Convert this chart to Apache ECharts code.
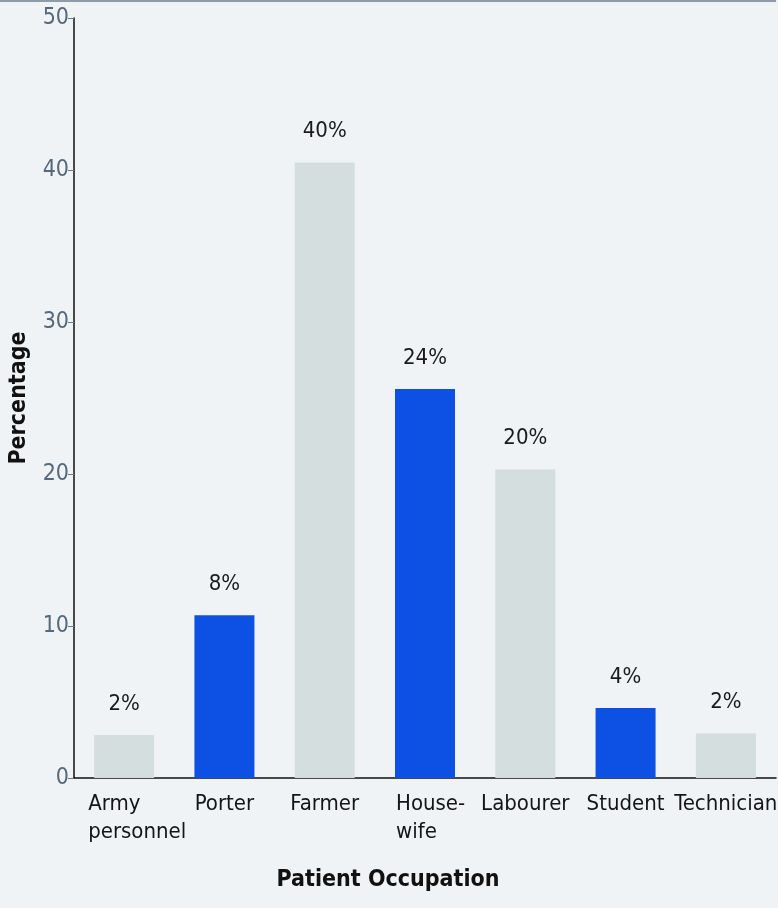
<!DOCTYPE html>
<html>
<head>
<meta charset="utf-8">
<title>Patient Occupation</title>
<script src="https://cdn.jsdelivr.net/npm/echarts@6/dist/echarts.min.js"></script>
<style>
  html, body { margin: 0; padding: 0; background: #eff3f6; }
  #chart { width: 778px; height: 908px; }
</style>
</head>
<body>
<div id="chart"></div>
<script>
var occupations = ['Army\npersonnel', 'Porter', 'Farmer', 'House-\nwife', 'Labourer', 'Student', 'Technician'];
var barHeights = [2.83, 10.7, 40.5, 25.6, 20.3, 4.6, 2.94];
var barLabels = ['2%', '8%', '40%', '24%', '20%', '4%', '2%'];
var highlighted = [false, true, false, true, false, true, false];
var yTicks = [0, 10, 20, 30, 40, 50];

(function() {
  var chart = echarts.init(document.getElementById('chart'));
  var font = "'Liberation Sans Narrow', 'DejaVu Sans Condensed', sans-serif";

  // multi-line labels are left aligned in the source
  var labelShift = {'Army\npersonnel': -36, 'House-\nwife': -29};

  var option = {
    backgroundColor: '#eff3f6',
    animation: false,
    grid: {left: 74, right: 2, top: 18, bottom: 130, containLabel: false, outerBoundsMode: 'none'},
    graphic: [{
      type: 'line',
      shape: {x1: 0, y1: 1, x2: 776, y2: 1},
      style: {stroke: '#8d9ca8', lineWidth: 2}
    }],
    xAxis: {
      type: 'category',
      data: occupations.map(function(name) {
        if (labelShift[name] !== undefined) {
          return {value: name, textStyle: {align: 'left', padding: [0, 0, 0, labelShift[name]]}};
        }
        return name;
      }),
      name: 'Patient Occupation',
      nameLocation: 'middle',
      nameGap: 91,
      nameTextStyle: {
        fontFamily: font, fontSize: 23, fontWeight: 'bold', color: '#111',
        padding: [0, 74, 0, 0]
      },
      axisLine: {lineStyle: {color: '#111', width: 1.5}},
      axisTick: {show: false},
      axisLabel: {
        interval: 0, margin: 12, fontFamily: font, fontSize: 22,
        color: '#151515', lineHeight: 28
      }
    },
    yAxis: {
      type: 'value',
      min: yTicks[0],
      max: yTicks[yTicks.length - 1],
      interval: 10,
      name: 'Percentage',
      nameLocation: 'middle',
      nameGap: 43,
      nameTextStyle: {fontFamily: font, fontSize: 23, fontWeight: 'bold', color: '#111'},
      axisLine: {show: true, lineStyle: {color: '#111', width: 1.5}},
      axisTick: {show: true, length: 6, lineStyle: {color: '#6b7b88'}},
      axisLabel: {margin: 5, fontFamily: font, fontSize: 23, color: '#56687a'},
      splitLine: {show: false}
    },
    series: [{
      type: 'bar',
      barWidth: 60,
      data: barHeights.map(function(v, i) {
        return {
          value: v,
          itemStyle: {color: highlighted[i] ? '#0d50e4' : '#d4dedf'}
        };
      }),
      label: {
        show: true,
        position: 'top',
        distance: 20,
        fontFamily: font,
        fontSize: 22,
        color: '#1a1a1a',
        formatter: function(p) {
          return barLabels[p.dataIndex];
        }
      }
    }]
  };
  chart.setOption(option);
})();
</script>
</body>
</html>
